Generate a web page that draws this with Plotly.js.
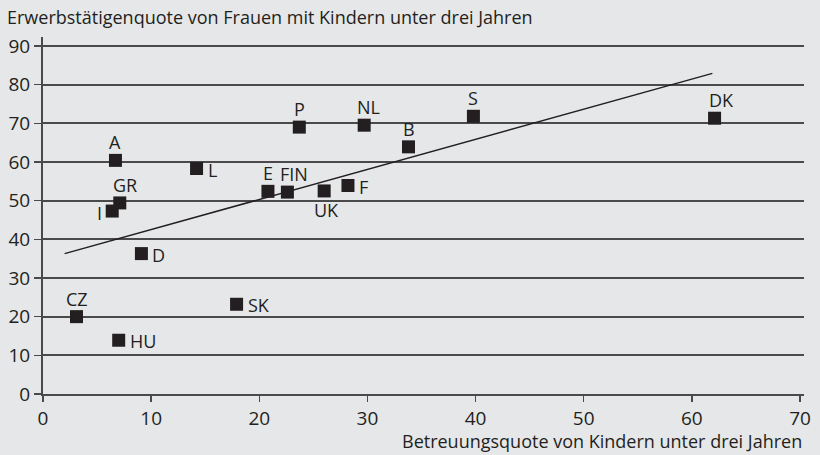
<!DOCTYPE html>
<html>
<head>
<meta charset="utf-8">
<script src="https://cdn.plot.ly/plotly-3.0.1.min.js"></script>
<style>html,body{margin:0;padding:0;background:#e6e7e9;}#chart{width:820px;height:455px;}</style>
</head>
<body>
<div id="chart"></div>
<script>
// Data
const countries = ['A','L','E','FIN','GR','I','D','CZ','SK','HU','P','NL','S','B','UK','F','DK'];
const careRate = [6.7,14.2,20.8,22.6,7.1,6.4,9.1,3.1,17.9,7.0,23.7,29.7,39.8,33.8,26.0,28.2,62.1];
const employmentRate = [60.4,58.3,52.4,52.2,49.4,47.3,36.3,20.0,23.2,13.9,69.0,69.5,71.8,63.9,52.5,53.9,71.3];
const labelSide = ['top','right','top','top','top','left','right','top','right','right','top','top','top','top','bottom','right','top'];
const trendX = [2.0, 61.9];
const trendY = [36.3, 82.9];
const xTicks = [0,10,20,30,40,50,60,70];
const yTicks = [0,10,20,30,40,50,60,70,80,90];

const txt = '#231f20';
const lineCol = '#4a4a4c';
const font = 'Open Sans, sans-serif';

const traces = [
  {x: trendX, y: trendY, mode: 'lines', type: 'scatter',
   line: {color: '#231f20', width: 1.5}, hoverinfo: 'skip', showlegend: false},
  {x: careRate, y: employmentRate, mode: 'markers', type: 'scatter',
   marker: {symbol: 'square', size: 13, color: '#231f20'}, showlegend: false}
];

const extraX = {FIN: 7, GR: 5, NL: 4, DK: 7};
const annotations = countries.map((c, i) => {
  const side = labelSide[i];
  const a = {x: careRate[i], y: employmentRate[i], xref: 'x', yref: 'y', text: c,
    showarrow: false, font: {family: font, size: 18, color: txt}};
  if (side === 'top') { a.xanchor = 'center'; a.yanchor = 'middle'; a.yshift = 18; a.xshift = extraX[c] || 0; }
  else if (side === 'bottom') { a.xanchor = 'center'; a.yanchor = 'middle'; a.yshift = -19; a.xshift = 2; }
  else if (side === 'right') { a.xanchor = 'left'; a.yanchor = 'middle'; a.xshift = 9; a.yshift = -1; }
  else { a.xanchor = 'right'; a.yanchor = 'middle'; a.xshift = -8; a.yshift = -2; }
  return a;
});
annotations.push({xref: 'paper', yref: 'paper', x: 1.0, y: 0, xanchor: 'right', yanchor: 'top',
  yshift: -33, text: 'Betreuungsquote von Kindern unter drei Jahren', showarrow: false,
  font: {family: font, size: 18, color: txt}});

const layout = {
  width: 820, height: 455,
  paper_bgcolor: '#e6e7e9', plot_bgcolor: '#e6e7e9',
  margin: {l: 43, r: 16, t: 37, b: 60.5},
  title: {text: 'Erwerbstätigenquote von Frauen mit Kindern unter drei Jahren',
    x: 7/820, xanchor: 'left', xref: 'container', y: 1 - 18/455, yanchor: 'middle', yref: 'container',
    font: {family: font, size: 18, color: txt}},
  xaxis: {range: [0, 70.37], tickvals: xTicks, ticktext: xTicks.map(String),
    showgrid: false, zeroline: false, showline: true, linecolor: lineCol, linewidth: 2,
    ticks: 'outside', ticklen: 6, tickwidth: 1.5, tickcolor: lineCol,
    tickfont: {family: font, size: 19, color: txt}, fixedrange: true},
  yaxis: {range: [0, 92.3], tickvals: yTicks, ticktext: yTicks.map(String),
    showgrid: true, gridcolor: lineCol, gridwidth: 2, zeroline: false,
    showline: true, linecolor: lineCol, linewidth: 2,
    ticks: 'outside', ticklen: 7, tickwidth: 1.5, tickcolor: lineCol,
    tickfont: {family: font, size: 19, color: txt}, fixedrange: true},
  annotations: annotations,
  font: {family: font, color: txt}
};

Plotly.newPlot('chart', traces, layout, {displayModeBar: false, staticPlot: true});
</script>
</body>
</html>
